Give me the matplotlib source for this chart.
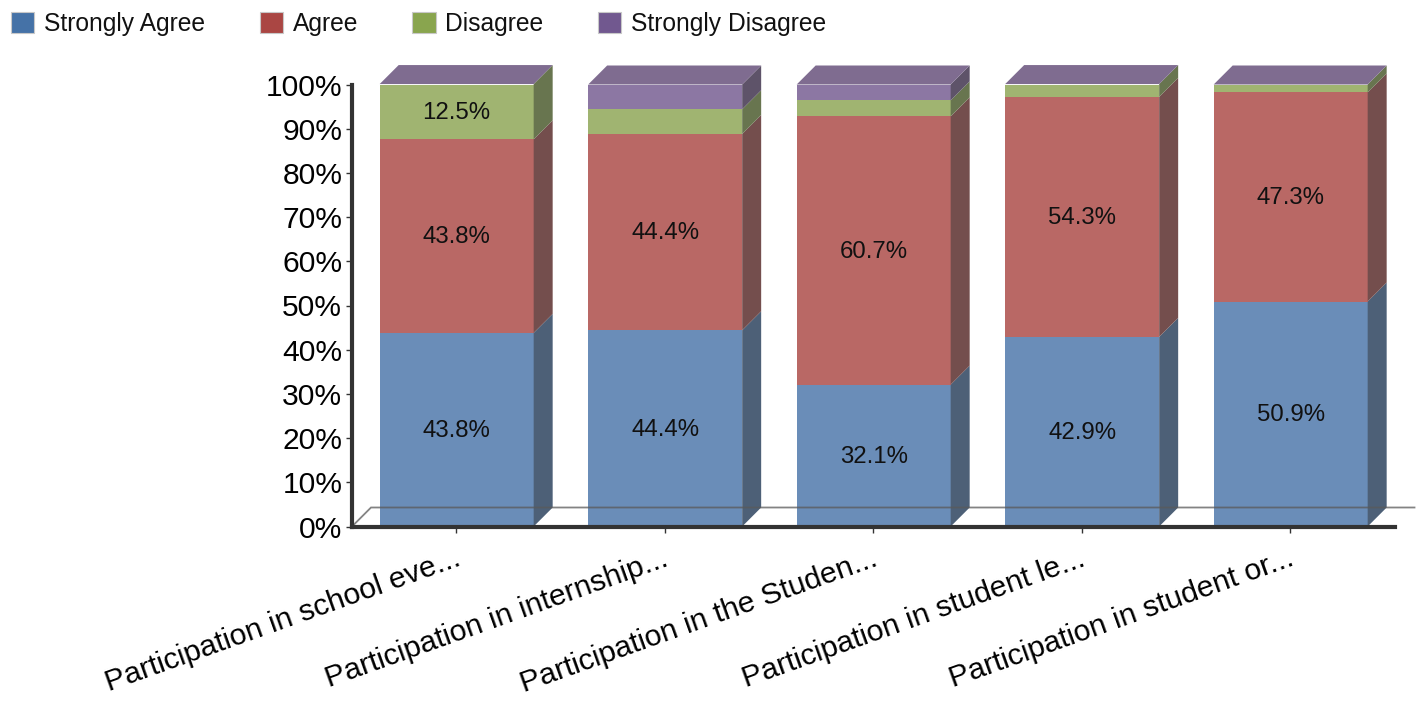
import matplotlib
matplotlib.use("Agg")
import matplotlib.pyplot as plt
from matplotlib.patches import Polygon, Patch
from matplotlib.transforms import ScaledTranslation

plt.rcParams['font.family'] = ['Liberation Sans', 'DejaVu Sans']

categories = ["Participation in school eve...", "Participation in internship...",
              "Participation in the Studen...", "Participation in student le...",
              "Participation in student or..."]
series_names = ["Strongly Agree", "Agree", "Disagree", "Strongly Disagree"]
strongly_agree = [43.8, 44.4, 32.1, 42.9, 50.9]
agree = [43.8, 44.4, 60.7, 54.3, 47.3]
disagree = [12.5, 5.6, 3.6, 2.9, 1.8]
strongly_disagree = [0.0, 5.6, 3.6, 0.0, 0.0]
series_values = [strongly_agree, agree, disagree, strongly_disagree]
label_threshold = 10

legend_colors = ["#4572a7", "#aa4643", "#89a54e", "#71588f"]
front_colors = ["#6a8db8", "#b96865", "#a0b471", "#8c77a3"]
side_colors = ["#4d6077", "#744e4d", "#68754f", "#5e5369"]
top_color = "#7f6c90"
axis_color = "#333333"

W, H = 1426, 703
fig = plt.figure(figsize=(W / 100, H / 100), dpi=100)
ax = fig.add_axes([352 / W, (H - 526.5) / H, (1394.5 - 352) / W, (526.5 - 84.5) / H])
ax.set_xlim(-0.5, 4.5)
ax.set_ylim(0, 100)

px_x = 5 / (1394.5 - 352)
px_y = 100 / (526.5 - 84.5)
dx = 19 * px_x
dy = 19 * px_y
bar_w = 154 * px_x

for i in range(len(categories)):
    x0 = i - bar_w / 2 + 0.002
    x1 = x0 + bar_w
    base = 0.0
    for s, values in enumerate(series_values):
        v = values[i]
        if v <= 0:
            continue
        ax.bar(x0, v, width=bar_w, bottom=base, align='edge',
               color=front_colors[s], linewidth=0, zorder=3)
        ax.add_patch(Polygon([(x1, base), (x1 + dx, base + dy), (x1 + dx, base + v + dy), (x1, base + v)],
                             closed=True, facecolor=side_colors[s], edgecolor='none', zorder=3, clip_on=False))
        if v >= label_threshold:
            ax.text((x0 + x1) / 2, base + v / 2 - 0.3, f"{v:.1f}%", ha='center', va='center',
                    fontsize=17.3, color='#111111', zorder=5)
        base += v
    top = base
    ax.add_patch(Polygon([(x0, top), (x1, top), (x1 + dx, top + dy), (x0 + dx, top + dy)],
                         closed=True, facecolor=top_color, edgecolor='none', zorder=3, clip_on=False))

# floor outline of the 3D plot area
ax.plot([-0.5, -0.5 + dx, 4.5 + 20 * px_x], [0, dy, dy], color='#5a5a5a', alpha=0.75, lw=1.3,
        zorder=4, clip_on=False, solid_joinstyle='miter')

for side in ('top', 'right'):
    ax.spines[side].set_visible(False)
for side in ('left', 'bottom'):
    ax.spines[side].set_color(axis_color)
    ax.spines[side].set_linewidth(3)
    ax.spines[side].set_zorder(6)

ax.set_yticks(range(0, 101, 10))
ax.set_yticklabels([f"{t}%" for t in range(0, 101, 10)], fontsize=21.6, color='black')
ax.tick_params(axis='y', length=4, width=1, color=axis_color, pad=3)
ax.set_xticks(range(len(categories)))
ax.set_xticklabels(categories, fontsize=21.7, rotation=19.7, ha='right', va='top',
                   rotation_mode='anchor', color='black')
ax.tick_params(axis='x', length=4, width=1, color=axis_color, pad=9)
label_shift = ScaledTranslation(-2 / 100, 0, fig.dpi_scale_trans)
for lab in ax.get_xticklabels():
    lab.set_transform(lab.get_transform() + label_shift)

handles = [Patch(facecolor=c, edgecolor='#c8c8c8', linewidth=0.8) for c in legend_colors]
fig.legend(handles, series_names, ncols=4, loc='upper left', bbox_to_anchor=(11 / W, 1 - 12 / H),
           borderaxespad=0, borderpad=0, frameon=False, fontsize=17.7,
           handlelength=0.94, handleheight=0.94, handletextpad=0.40, columnspacing=2.22,
           labelcolor='#111111')

fig.savefig("out.png", dpi=100, facecolor='white')
